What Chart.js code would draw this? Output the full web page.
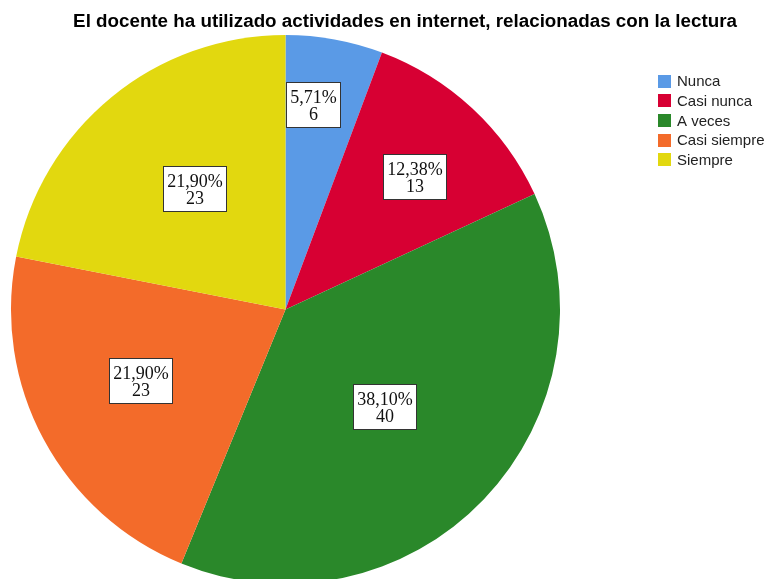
<!DOCTYPE html>
<html>
<head>
<meta charset="utf-8">
<script src="https://cdn.jsdelivr.net/npm/chart.js@4/dist/chart.umd.min.js"></script>
<style>
html,body{margin:0;padding:0;background:#fff;overflow:hidden;width:770px;height:579px;}
canvas{display:block;}
</style>
</head>
<body>
<canvas id="c" width="770" height="600"></canvas>
<script>
const chartTitle = 'El docente ha utilizado actividades en internet, relacionadas con la lectura';
const categories = ['Nunca', 'Casi nunca', 'A veces', 'Casi siempre', 'Siempre'];
const counts = [6, 13, 40, 23, 23];
const sliceColors = ['#5A9AE6', '#D70033', '#2A882A', '#F36B2A', '#E2D80F'];

const pieLabels = {
  id: 'pieLabels',
  afterDatasetsDraw(chart, args, opts) {
    const ctx = chart.ctx;
    const meta = chart.getDatasetMeta(0);
    const data = chart.data.datasets[0].data;
    const total = data.reduce((a, b) => a + b, 0);
    ctx.save();
    ctx.font = '18px "Liberation Serif", "Times New Roman", serif';
    ctx.textAlign = 'center';
    ctx.textBaseline = 'alphabetic';
    meta.data.forEach((arc, i) => {
      const p = arc.getProps(['x', 'y', 'startAngle', 'endAngle', 'outerRadius'], true);
      const ang = p.startAngle + (p.endAngle - p.startAngle) * opts.angleFrac[i];
      const r = p.outerRadius * opts.radii[i];
      const cx = p.x + Math.cos(ang) * r;
      const cy = p.y + Math.sin(ang) * r;
      const l1 = (data[i] / total * 100).toFixed(2).replace('.', ',') + '%';
      const l2 = String(data[i]);
      const w = Math.round(Math.max(ctx.measureText(l1).width, ctx.measureText(l2).width) + 8);
      const h = 45;
      const bx = Math.round(cx - w / 2) + 0.5, by = Math.round(cy - h / 2) + 0.5;
      ctx.fillStyle = '#fff';
      ctx.fillRect(bx, by, w, h);
      ctx.strokeStyle = '#333';
      ctx.lineWidth = 1;
      ctx.strokeRect(bx, by, w, h);
      ctx.fillStyle = '#111';
      ctx.fillText(l1, bx + w / 2, by + 20);
      ctx.fillText(l2, bx + w / 2, by + 37);
    });
    ctx.restore();
  },
  afterDraw(chart) {
    const ctx = chart.ctx;
    ctx.save();
    ctx.font = 'bold 18.8px "Liberation Sans", Arial, sans-serif';
    ctx.fillStyle = '#000';
    ctx.textAlign = 'center';
    ctx.textBaseline = 'alphabetic';
    ctx.fillText(chartTitle, 405, 27);
    // legend
    ctx.font = '15px "Liberation Sans", Arial, sans-serif';
    ctx.textAlign = 'left';
    ctx.textBaseline = 'middle';
    chart.data.labels.forEach((lab, i) => {
      const y = 81 + i * 19.7;
      ctx.fillStyle = chart.data.datasets[0].backgroundColor[i];
      ctx.fillRect(658, Math.round(y - 6.5), 13, 13);
      ctx.fillStyle = '#222';
      ctx.fillText(lab, 677, y + 1);
    });
    ctx.restore();
  }
};

new Chart(document.getElementById('c'), {
  type: 'pie',
  data: {
    labels: categories,
    datasets: [{
      data: counts,
      backgroundColor: sliceColors,
      borderWidth: 0
    }]
  },
  options: {
    responsive: false,
    animation: false,
    devicePixelRatio: 1,
    layout: { padding: { left: 11, right: 210, top: 35, bottom: 16 } },
    plugins: {
      legend: { display: false },
      title: { display: false },
      tooltip: { enabled: false },
      pieLabels: {
        angleFrac: [0.364, 0.529, 0.505, 0.528, 0.532],
        radii: [0.755, 0.674, 0.507, 0.589, 0.551]
      }
    }
  },
  plugins: [pieLabels]
});
</script>
</body>
</html>
